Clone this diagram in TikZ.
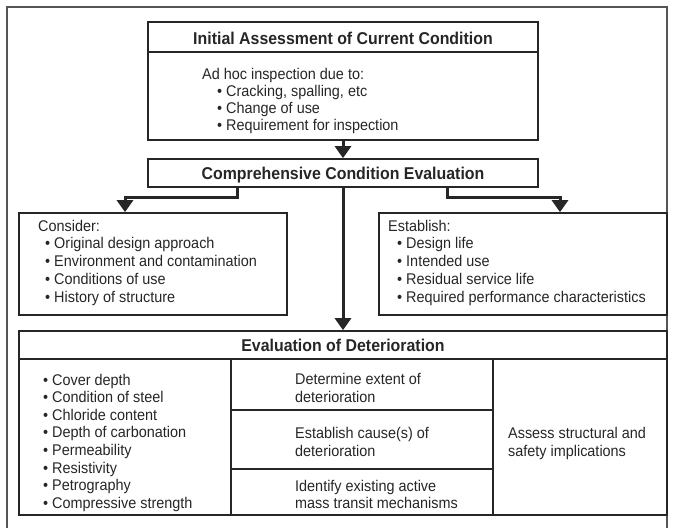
\documentclass[tikz,border=0pt]{standalone}
\usepackage{fontspec}
\setmainfont{Liberation Sans}[FakeStretch=0.93]
\usetikzlibrary{arrows.meta}
\definecolor{ink}{HTML}{262626}
\definecolor{framegray}{HTML}{555555}
\begin{document}
\begin{tikzpicture}[x=1pt,y=-1pt,
  box/.style={draw=ink, line width=1.7pt, rectangle, inner sep=0pt},
  divline/.style={draw=ink, line width=1.5pt},
  txt/.style={font=\fontsize{15.5}{18}\selectfont, text=ink, inner sep=0pt, anchor=base west},
  ttl/.style={font=\bfseries\fontsize{17.1}{19}\selectfont, text=ink, inner sep=0pt, anchor=base},
  conn/.style={draw=ink, line width=3pt, -{Triangle[width=16pt,length=12pt]}},
  frameline/.style={draw=framegray, line width=1.5pt}]
\useasboundingbox (0,0) rectangle (673,528);
% outer frame
\draw[frameline] (7,540) -- (7,7) -- (667,7) -- (667,540);

% boxes
\node[box, minimum width=390pt, minimum height=118pt] (topbox) at (343,81) {};
\node[box, minimum width=390pt, minimum height=28pt] (compbox) at (343,173) {};
\node[box, minimum width=268pt, minimum height=102pt] (leftbox) at (153,264) {};
\node[box, minimum width=288pt, minimum height=102pt] (rightbox) at (523,264) {};
\node[box, minimum width=648pt, minimum height=184pt] (evalbox) at (343,423) {};

% dividers
\draw[divline] ([yshift=-31pt]topbox.north west) -- ([yshift=-31pt]topbox.north east);
\draw[divline] ([yshift=-29pt]evalbox.north west) -- ([yshift=-29pt]evalbox.north east);
\draw[divline] ([xshift=213pt,yshift=-29pt]evalbox.north west) -- ([xshift=213pt]evalbox.south west);
\draw[divline] ([xshift=-175pt,yshift=-29pt]evalbox.north east) -- ([xshift=-175pt]evalbox.south east);
\draw[divline] ([xshift=213pt,yshift=-80pt]evalbox.north west) -- ([xshift=-175pt,yshift=-80pt]evalbox.north east);
\draw[divline] ([xshift=213pt,yshift=-139pt]evalbox.north west) -- ([xshift=-175pt,yshift=-139pt]evalbox.north east);

% connectors
\draw[conn] (topbox.south) -- (compbox.north);
\draw[conn] ([xshift=-106pt]compbox.south) -- ++(0,10) -| ([xshift=-28pt]leftbox.north);
\draw[conn] ([xshift=104pt]compbox.south) -- ++(0,10) -| ([xshift=37pt]rightbox.north);
\draw[conn] (compbox.south) -- (evalbox.north);

% texts: top box
\node[ttl] (toptitle) at (343,44) {Initial Assessment of Current Condition};
\node[txt] (adhoc) at (202,79) {Ad hoc inspection due to:};
\foreach \t [count=\i] in {{Cracking, spalling, etc}, {Change of use}, {Requirement for inspection}}
  \node[txt] (adhoc\i) at (217,79+17*\i) {• \t};

\node[ttl] (comptitle) at (343,179) {Comprehensive Condition Evaluation};

% left box
\node[txt] (consider) at (38,231) {Consider:};
\foreach \t [count=\i] in {{Original design approach}, {Environment and contamination}, {Conditions of use}, {History of structure}}
  \node[txt] (cons\i) at (45,231+17.8*\i) {• \t};

% right box
\node[txt] (establish) at (388,231) {Establish:};
\foreach \t [count=\i] in {{Design life}, {Intended use}, {Residual service life}, {Required performance characteristics}}
  \node[txt] (est\i) at (397,231+17.8*\i) {• \t};

% evaluation box
\node[ttl] (evaltitle) at (343,351) {Evaluation of Deterioration};
\foreach \t [count=\i] in {{Cover depth}, {Condition of steel}, {Chloride content}, {Depth of carbonation}, {Permeability}, {Resistivity}, {Petrography}, {Compressive strength}}
  \node[txt] (ev\i) at (43,367.4+17.6*\i) {• \t};

\node[txt] (m1a) at (295,384) {Determine extent of};
\node[txt] (m1b) at (295,402) {deterioration};
\node[txt] (m2a) at (295,438) {Establish cause(s) of};
\node[txt] (m2b) at (295,456) {deterioration};
\node[txt] (m3a) at (295,491) {Identify existing active};
\node[txt] (m3b) at (295,508) {mass transit mechanisms};

\node[txt] (r1) at (508,438) {Assess structural and};
\node[txt] (r2) at (508,456) {safety implications};
\end{tikzpicture}
\end{document}
